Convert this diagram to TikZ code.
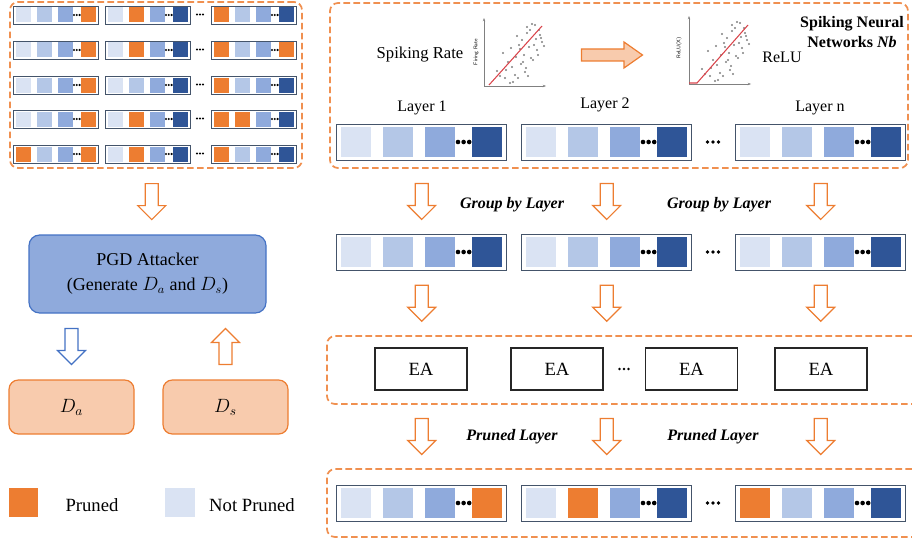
\documentclass[tikz,border=0pt]{standalone}
\usepackage{fontspec}
\setmainfont{Liberation Serif}
\usetikzlibrary{arrows.meta, fit, calc}

\definecolor{nla}{HTML}{DAE3F3}
\definecolor{nlb}{HTML}{B4C7E7}
\definecolor{nlc}{HTML}{8FAADC}
\definecolor{nld}{HTML}{2F5597}
\definecolor{prn}{HTML}{ED7D31}
\definecolor{prnlight}{HTML}{F8CBAD}
\definecolor{atkblue}{HTML}{4472C4}
\definecolor{barline}{HTML}{44546A}
\definecolor{fitred}{HTML}{D9444B}

\tikzset{
  fmapbox/.style={draw=barline, line width=1pt, fill=white, inner sep=0pt},
  dashbox/.style={draw=prn!85, line width=1.3pt, dash pattern=on 5pt off 2.5pt,
    rounded corners=6pt, inner sep=0pt},
  softbox/.style={draw=prn, fill=prnlight, line width=0.9pt, rounded corners=7pt,
    minimum width=93.75pt, minimum height=40.5pt, font=\fontsize{14}{16}\selectfont},
  eabox/.style={draw=black!85, line width=1pt, minimum width=69pt, minimum height=31.5pt,
    font=\fontsize{14}{16}\selectfont},
  steplabel/.style={font=\fontsize{12}{14}\selectfont\bfseries\itshape},
  txt/.style={font=\fontsize{12}{14}\selectfont},
  keytxt/.style={font=\fontsize{14}{16}\selectfont},
  pics/hollowdown/.style={code={
    \draw[line width=0.9pt, fill=white]
      (-6.5,-18) -- (6.5,-18) -- (6.5,4) -- (14,4) -- (0,18) -- (-14,4) -- (-6.5,4) -- cycle;}},
  pics/fatright/.style={code={
    \draw[draw=prn, fill=prnlight, line width=0.9pt]
      (-30.5,-6) -- (12,-6) -- (12,-13) -- (30.5,0) -- (12,13) -- (12,6) -- (-30.5,6) -- cycle;}},
}

% one layer bar: name, top-left corner, scale, colours of the four cells
\newcommand{\fmap}[7]{%
  \node[fmapbox, anchor=north west, minimum width=#3*63.75pt, minimum height=#3*13.5pt] (#1) at (#2) {};
  \begin{scope}[shift={(#1.north west)}, scale=#3]
    \fill[#4] (2.5,1.5) rectangle ++(15,15);
    \fill[#5] (23.5,1.5) rectangle ++(15,15);
    \fill[#6] (44.5,1.5) rectangle ++(15,15);
    \fill[#7] (68,1.5) rectangle ++(15,15);
    \foreach \dx in {61,63.8,66.6} \fill (\dx,9) circle (1.15);
  \end{scope}}

\begin{document}
\begin{tikzpicture}[>={Stealth[length=2.5pt]}, x=0.75pt, y=-0.75pt]
  \useasboundingbox (0,0) rectangle (912,542);
  \clip (0,0) rectangle (912,542);

  %--- grid of candidate pruning masks (top left)
  \foreach \yy/\qa/\qb/\qc/\qd/\qe/\qf/\qg/\qh/\qi/\qj/\qk/\ql [count=\rw] in {
     6/nla/nlb/nlc/prn/nla/prn/nlc/nld/prn/nlb/nlc/nld,
    41/nla/nlb/nlc/prn/nla/prn/nlc/nld/prn/nlb/nlc/prn,
    76/nla/nlb/nlc/prn/nla/nlb/nlc/nld/prn/nlb/nlc/nld,
   110/nla/nlb/nlc/prn/nla/prn/nlc/nld/prn/prn/nlc/nld,
   145/prn/nlb/nlc/prn/nla/prn/nlc/nld/prn/nlb/nlc/nld}{
    \fmap{t\rw a}{13,\yy}{1}{\qa}{\qb}{\qc}{\qd}
    \fmap{t\rw b}{105,\yy}{1}{\qe}{\qf}{\qg}{\qh}
    \fmap{t\rw c}{211,\yy}{1}{\qi}{\qj}{\qk}{\ql}
    \foreach \dx in {197,200,203} \fill (\dx,\yy+8.5) circle (1.1);
  }
  \node[dashbox, fit={(10,2) (302,168)}] (tlbox) {};

  %--- attacker and the two data sets
  \node[draw=atkblue, fill=nlc, line width=0.9pt, rounded corners=8pt,
        minimum width=177.75pt, minimum height=58.5pt, align=center,
        font=\fontsize{13.5}{18.5}\selectfont] (pgd) at (147.5,274)
        {PGD Attacker\\(Generate $D_a$ and $D_s$)};
  \node[softbox] (da) at (71.5,407) {$D_a$};
  \node[softbox] (ds) at (225.5,407) {$D_s$};

  \pic[prn] at ($(tlbox.south)!0.5!(pgd.north)$) {hollowdown};
  \coordinate (midl) at ($(pgd.south)!0.5!(da.north)$);
  \pic[atkblue] at (da |- midl) {hollowdown};
  \pic[prn, rotate=180] at (ds |- midl) {hollowdown};

  %--- legend
  \node[fill=prn, inner sep=0pt, minimum width=21.75pt, minimum height=21.75pt] (keyp) at (23.5,502) {};
  \node[keytxt] (keyptxt) at (92,505) {Pruned};
  \node[fill=nla, inner sep=0pt, minimum width=22.5pt, minimum height=21.75pt] (keyn) at (179.5,502) {};
  \node[keytxt] (keyntxt) at (252,505) {Not Pruned};

  %--- spiking network box (top right)
  \node[dashbox, fit={(330,3) (908,168)}] (snnbox) {};
  \node[font=\fontsize{12}{15}\selectfont\bfseries, align=center] (snntitle) at (852,32)
    {Spiking Neural\\Networks \textit{Nb}};
  \node[font=\fontsize{12.5}{14}\selectfont] (srate) at (420,55) {Spiking Rate};
  \node[txt] (relu) at (782,57) {ReLU};

  % scatter plots
  \coordinate (p1) at (484,86);
  \coordinate (p2) at (689,84);
  \foreach \pp in {p1,p2}{
    \begin{scope}[shift={(\pp)}]
      \draw[->, gray, line width=0.5pt] (0,0) -- (0,-68);
      \draw[->, gray, line width=0.5pt] (0,0) -- (62,0);
      \foreach \px/\py in {13/-15,19/-33,26/-3,24/-24,32/-29,36/-37,38/-46,43/-59,46/-56,51/-61,
          56/-51,58/-44,54/-31,49/-26,42/-18,37/-22,31/-11,22/-16,28/-19,40/-31,45/-39,52/-47,
          57/-48,47/-28,34/-8,29/-4,43/-53,35/-41,50/-41,55/-56,41/-14,16/-10,
          33/-50,27/-38,48/-62,53/-36,39/-24,21/-8,44/-10,60/-40}
        \fill[gray] (\px,\py) circle (1.2);
    \end{scope}
  }
  \draw[fitred, line width=0.8pt] ($(p1)+(5,-1)$) -- ($(p1)+(58,-60)$);
  \draw[fitred, line width=0.8pt] ($(p2)+(0,-1)$) -- ($(p2)+(8,-1)$) -- ($(p2)+(59,-59)$);
  \node[rotate=90, font=\sffamily\fontsize{4}{5}\selectfont] (p1lbl) at ($(p1)+(-8,-34)$) {Firing Rate};
  \node[rotate=90, font=\sffamily\fontsize{4}{5}\selectfont] (p2lbl) at ($(p2)+(-10,-36)$) {ReLU(X)};
  \pic at (612,55) {fatright};

  %--- layer bars
  \node[txt] (lay1) at (422,108) {Layer 1};
  \node[txt] (lay2) at (605,105) {Layer 2};
  \node[txt] (layn) at (820,108) {Layer n};
  \fmap{l1}{336,124}{2}{nla}{nlb}{nlc}{nld}
  \fmap{l2}{521,124}{2}{nla}{nlb}{nlc}{nld}
  \fmap{ln}{735,124}{2}{nla}{nlb}{nlc}{nld}

  %--- grouped bars
  \fmap{g1}{336,234}{2}{nla}{nlb}{nlc}{nld}
  \fmap{g2}{521,234}{2}{nla}{nlb}{nlc}{nld}
  \fmap{gn}{735,234}{2}{nla}{nlb}{nlc}{nld}
  \node[steplabel] (grp1) at (512,205) {Group by Layer};
  \node[steplabel] (grp2) at (719,205) {Group by Layer};

  %--- evolutionary search
  \node[dashbox, fit={(327,336) (930,404)}] (eabox) {};
  \node[eabox] (ea1) at (421,369) {EA};
  \node[eabox] (ea2) at (557,369) {EA};
  \node[eabox] (ea3) at (691.5,369) {EA};
  \node[eabox] (ea4) at (821,369) {EA};
  \foreach \dx in {619.5,624,628.5} \fill (\dx,369) circle (1.3);

  %--- pruned bars
  \node[dashbox, fit={(327,469) (930,537)}] (prbox) {};
  \fmap{r1}{336,485}{2}{nla}{nlb}{nlc}{prn}
  \fmap{r2}{521,485}{2}{nla}{prn}{nlc}{nld}
  \fmap{rn}{735,485}{2}{prn}{nlb}{nlc}{nld}
  \node[steplabel] (prl1) at (512,437) {Pruned Layer};
  \node[steplabel] (prl2) at (713,437) {Pruned Layer};

  % dots between bars
  \foreach \yy in {142,252,503}
    \foreach \dx in {707.5,713,718.5} \fill (\dx,\yy) circle (1.8);

  %--- hollow arrows between the stages
  \coordinate (gap1) at ($(snnbox.south)!0.5!(g1.north)$);
  \coordinate (gap2) at ($(g1.south)!0.5!(eabox.north)$);
  \coordinate (gap3) at ($(eabox.south)!0.5!(prbox.north)$);
  \foreach \b in {1,2,n}{
    \pic[prn] at (g\b |- gap1) {hollowdown};
    \pic[prn] at (g\b |- gap2) {hollowdown};
    \pic[prn] at (r\b |- gap3) {hollowdown};
  }
\end{tikzpicture}
\end{document}
